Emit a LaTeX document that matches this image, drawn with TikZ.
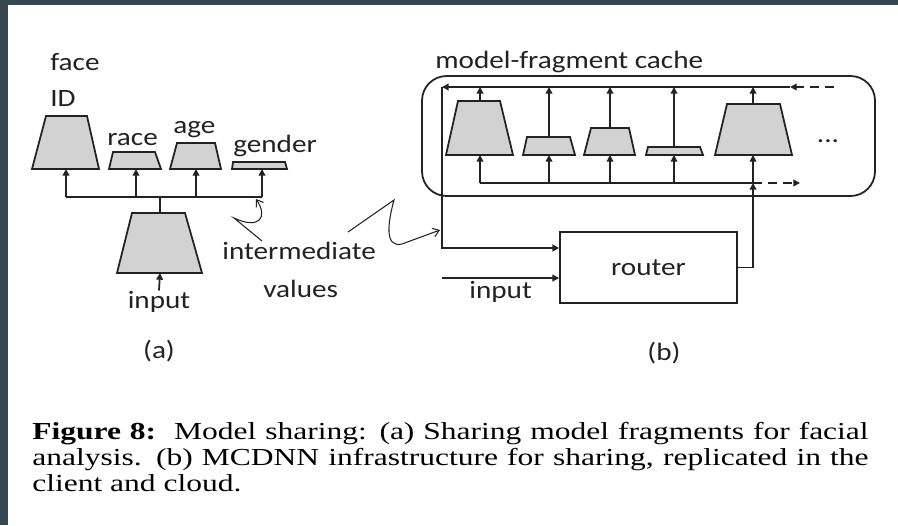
\documentclass[tikz,border=0pt]{standalone}
\usepackage{fontspec}
\setmainfont{Carlito}[FakeStretch=1.17]
\newfontfamily\capfont{Liberation Serif}[FakeStretch=1.29]
\usetikzlibrary{arrows.meta}
\definecolor{frame}{HTML}{37474F}
\definecolor{ink}{HTML}{222222}
\definecolor{fragfill}{HTML}{D2D2D2}
\tikzset{
  lbl/.style={inner sep=0pt, text=ink, font=\fontsize{14.2}{17}\selectfont},
  wire/.style={draw=ink, line width=1pt},
  arr/.style={wire, -{Triangle[length=3.8pt,width=3.8pt]}},
  frag/.style={draw=ink, line width=1pt, fill=fragfill, line join=miter},
  squig/.style={draw=ink, line width=0.6pt, -{Straight Barb[length=3.5pt,width=5pt]}},
  dashline/.style={arr, dash pattern=on 5pt off 3.5pt},
  capline/.style={inner sep=0pt, anchor=base west, text=black,
    font=\capfont\fontsize{13.9}{14.7}\selectfont}
}
\begin{document}
\begin{tikzpicture}[x=0.02cm, y=-0.02cm]
\useasboundingbox (0,0) rectangle (898,525);
\fill[white] (0,0) rectangle (898,525);
\fill[frame] (0,0) rectangle (8,525);
\fill[frame] (0,0) rectangle (898,5);

% ---------- (a) shared face-analysis fragments ----------
\draw[frag] (32,169) -- (46,116) -- (87,116) -- (99,169) -- cycle;
\draw[frag] (109,169) -- (113,152) -- (155,152) -- (161,169) -- cycle;
\draw[frag] (170,169) -- (177,143) -- (215,143) -- (221,169) -- cycle;
\draw[frag] (232,169) -- (233,162) -- (285,162) -- (287,169) -- cycle;
\draw[frag] (117,273) -- (132,213) -- (185,213) -- (202,273) -- cycle;

\coordinate (faceB) at (66,169);
\coordinate (raceB) at (136,169);
\coordinate (ageB) at (196,169);
\coordinate (genderB) at (262,169);
\coordinate (baseT) at (160,213);
\coordinate (baseB) at (160,273);
\coordinate (bus) at (160,197);

\node[lbl, anchor=base west] (faceL) at (50,70) {face};
\node[lbl, anchor=base west] (idL) at (50,106) {ID};
\node[lbl, anchor=base west] (raceL) at (107,145) {race};
\node[lbl, anchor=base west] (ageL) at (173,133) {age};
\node[lbl, anchor=base west] (genderL) at (233,152) {gender};
\node[lbl, anchor=base] (inA) at (159,308) {input};
\node[lbl, anchor=base west] (imd) at (222,259) {intermediate};
\node[lbl, anchor=base west] (vals) at (263,297) {values};
\node[lbl, anchor=base] (capA) at (159,358) {(a)};

\draw[wire] (faceB |- bus) -- (genderB |- bus);
\draw[wire] (baseT) -- (bus);
\draw[arr] (faceB |- bus) -- (faceB);
\draw[arr] (raceB |- bus) -- (raceB);
\draw[arr] (ageB |- bus) -- (ageB);
\draw[arr] (genderB |- bus) -- (genderB);
\draw[arr] (inA.north) -- (baseB);

% pointers from the "intermediate values" label
\coordinate (sqA) at (262,241);
\coordinate (sqB) at (348,232);
\coordinate (busHit) at (256,199);
\coordinate (lineHit) at (440,230);
\draw[squig] (sqA) -- (234,218) .. controls (260,230) and (268,217) .. (busHit);
\draw[squig] (sqB) -- (394,200) .. controls (388,222) and (384,248) .. (402,244) -- (lineHit);

% ---------- (b) model-fragment cache and router ----------
\node[lbl, anchor=base west] (cacheL) at (435,68) {model-fragment cache};
\draw[wire, rounded corners=14] (422,76) rectangle (875,196);

\draw[frag] (446,155) -- (458,101) -- (500,101) -- (513,155) -- cycle;
\draw[frag] (523,155) -- (527,137) -- (570,137) -- (575,155) -- cycle;
\draw[frag] (584,155) -- (591,128) -- (629,128) -- (635,155) -- cycle;
\draw[frag] (646,155) -- (648,147) -- (700,147) -- (703,155) -- cycle;
\draw[frag] (715,155) -- (727,104) -- (780,104) -- (792,155) -- cycle;

\coordinate (f1T) at (480,101); \coordinate (f1B) at (480,155);
\coordinate (f2T) at (549,137); \coordinate (f2B) at (549,155);
\coordinate (f3T) at (610,128); \coordinate (f3B) at (610,155);
\coordinate (f4T) at (674,147); \coordinate (f4B) at (674,155);
\coordinate (f5T) at (753,104); \coordinate (f5B) at (753,155);
\coordinate (topBus) at (0,87);
\coordinate (botBus) at (0,183);
\coordinate (tbL) at (442,87);
\coordinate (tbR) at (790,87);
\coordinate (tbIn) at (834,87);
\coordinate (bbOut) at (800,183);

\node[lbl, anchor=center] (dots) at (828,141) {...};

% upper bus: fragment outputs
\draw[dashline] (tbIn) -- (tbR);
\draw[arr] (tbR) -- (tbL);
\foreach \f in {f1,f2,f3,f4,f5}
  \draw[arr] (\f T) -- (\f T |- topBus);

% lower bus: fragment inputs
\draw[wire] (f1B |- botBus) -- (f5B |- botBus);
\foreach \f in {f1,f2,f3,f4,f5}
  \draw[arr] (\f B |- botBus) -- (\f B);
\draw[dashline] (f5B |- botBus) -- (bbOut);

% router
\node[draw=ink, line width=1pt, minimum width=3.54cm, minimum height=1.42cm,
      inner sep=0pt, text=ink, font=\fontsize{14.2}{17}\selectfont]
      (router) at (648.5,267.5) {router};
\coordinate (yFeed) at (0,248);
\coordinate (yIn) at (0,278);
\coordinate (inB0) at (442,278);
\draw[arr] (tbL) |- (router.west |- yFeed);
\draw[arr] (inB0) -- (router.west |- yIn);
\node[lbl, anchor=base west] (inB) at (469,298) {input};
\draw[arr] (router.east) -| (f5B |- botBus);

\node[lbl, anchor=base] (capB) at (664,360) {(b)};

% ---------- caption ----------
\node[capline] (cap1) at (32,439)
  {\makebox[476pt][s]{\textbf{Figure 8:}\ \ Model sharing: (a) Sharing model fragments for facial}};
\node[capline] (cap2) at (32,465)
  {\makebox[476pt][s]{analysis. (b) MCDNN infrastructure for sharing, replicated in the}};
\node[capline] (cap3) at (32,491) {client and cloud.};
\end{tikzpicture}
\end{document}
